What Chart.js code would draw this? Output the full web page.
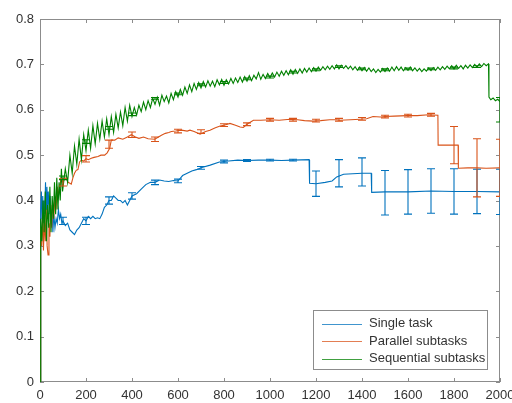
<!DOCTYPE html>
<html>
<head>
<meta charset="utf-8">
<script src="https://cdn.jsdelivr.net/npm/chart.js@4"></script>
<style>
  body { margin: 0; background: #fff; }
  #wrap { width: 512px; height: 403px; }
</style>
</head>
<body>
<div id="wrap"><canvas id="myChart" width="512" height="403"></canvas></div>
<script>
const seriesLabels = ['Single task', 'Parallel subtasks', 'Sequential subtasks'];
const seriesColors = ['#0072BD', '#D95319', '#008000'];

const xTicks = [0, 200, 400, 600, 800, 1000, 1200, 1400, 1600, 1800, 2000];
const yTicks = [0, 0.1, 0.2, 0.3, 0.4, 0.5, 0.6, 0.7, 0.8];

// single task
const singleX = [0,3,6,9,12,15,18,21,24,27,30,33,36,40,44,48,52,56,60,65,70,75,80,85,90,95,100,110,120,130,140,150,160,170,180,190,200,210,220,230,240,250,260,270,280,290,300,310,320,330,340,350,360,370,380,390,400,420,440,460,480,500,520,540,560,580,600,620,640,660,680,700,740,780,820,860,900,950,1000,1050,1100,1170,1172,1200,1240,1270,1290,1320,1400,1440,1442,1500,1600,1700,1800,1900,2000];
const singleY = [0,0.38,0.42,0.36,0.41,0.35,0.40,0.37,0.44,0.38,0.43,0.39,0.42,0.37,0.41,0.35,0.38,0.33,0.37,0.34,0.36,0.35,0.38,0.36,0.37,0.35,0.355,0.345,0.35,0.335,0.33,0.325,0.335,0.34,0.35,0.36,0.355,0.365,0.36,0.365,0.36,0.362,0.36,0.37,0.385,0.39,0.40,0.40,0.41,0.405,0.40,0.40,0.395,0.40,0.39,0.40,0.41,0.415,0.425,0.435,0.44,0.44,0.445,0.443,0.442,0.444,0.443,0.455,0.46,0.465,0.468,0.472,0.478,0.485,0.487,0.489,0.488,0.489,0.489,0.488,0.489,0.49,0.438,0.437,0.44,0.443,0.452,0.458,0.46,0.46,0.418,0.419,0.419,0.421,0.42,0.42,0.419];

// parallel subtasks
const parallelX = [0,3,7,11,15,19,23,27,31,35,39,43,47,51,55,60,65,70,75,80,86,92,100,108,115,122,130,136,143,150,158,165,172,180,190,200,210,223,235,252,265,281,292,303,310,325,340,360,380,397,415,430,450,470,499,515,528,545,560,571,590,615,640,652,670,687,696,705,720,739,760,783,800,826,850,870,884,900,928,960,1000,1040,1087,1120,1150,1188,1220,1260,1290,1304,1350,1391,1420,1448,1480,1500,1540,1596,1640,1690,1730,1731,1800,1818,1819,1860,1900,1940,2000];
const parallelY = [0,0.34,0.30,0.37,0.29,0.36,0.31,0.38,0.30,0.28,0.35,0.32,0.39,0.34,0.40,0.36,0.41,0.38,0.43,0.41,0.43,0.45,0.44,0.45,0.449,0.44,0.438,0.436,0.45,0.46,0.467,0.468,0.485,0.489,0.487,0.492,0.49,0.493,0.495,0.497,0.50,0.50,0.505,0.515,0.533,0.533,0.538,0.535,0.54,0.545,0.54,0.537,0.54,0.536,0.535,0.54,0.544,0.548,0.55,0.552,0.553,0.555,0.553,0.555,0.552,0.548,0.546,0.548,0.552,0.555,0.56,0.564,0.566,0.57,0.566,0.562,0.561,0.568,0.577,0.577,0.578,0.577,0.579,0.578,0.576,0.575,0.576,0.578,0.578,0.577,0.578,0.579,0.58,0.585,0.584,0.585,0.586,0.587,0.587,0.589,0.588,0.522,0.522,0.522,0.471,0.472,0.472,0.471,0.472];

// sequential subtasks
const sequentialX = [0,3,8,13,18,23,28,33,38,43,48,53,58,63,68,73,78,83,88,93,98,
    110,120,130,140,150,160,170,180,190,200,210,220,230,240,250,260,270,280,290,300,310,320,330,340,350,360,370,380,390,400,
    410,420,430,440,450,460,470,480,490,500,510,520,530,540,550,560,570,580,590,600,610,620,630,640,650,660,670,680,690,700,
    710,720,730,740,750,760,770,780,790,800,810,820,830,840,850,860,870,880,890,900,910,920,930,940,950,960,970,980,990,1000,
    1010,1020,1030,1040,1050,1060,1070,1080,1090,1100,1110,1120,1130,1140,1150,1160,1170,1180,1190,1200,1210,1220,1230,1240,1250,1260,1270,1280,1290,1300,
    1310,1320,1330,1340,1350,1360,1370,1380,1390,1400,1410,1420,1430,1440,1450,1460,1470,1480,1490,1500,1510,1520,1530,1540,1550,1560,1570,1580,1590,1600,
    1610,1620,1630,1640,1650,1660,1670,1680,1690,1700,1710,1720,1730,1740,1750,1760,1770,1780,1790,1800,1810,1820,1830,1840,1850,1860,1870,1880,1890,1900,
    1910,1920,1930,1940,1950,1952,1960,1970,1980,1990,2000];
const sequentialY = [0,0.36,0.31,0.40,0.33,0.42,0.31,0.39,0.34,0.43,0.33,0.41,0.36,0.44,0.37,0.45,0.38,0.44,0.40,0.47,0.42,
    0.47,0.44,0.50,0.46,0.52,0.48,0.535,0.49,0.545,0.51,0.555,0.515,0.565,0.525,0.57,0.535,0.575,0.54,0.58,0.545,0.585,0.55,0.59,0.56,0.595,0.565,0.605,0.575,0.61,0.585,
    0.605,0.588,0.61,0.596,0.617,0.60,0.62,0.605,0.625,0.612,0.628,0.61,0.632,0.618,0.63,0.615,0.636,0.622,0.64,0.628,0.645,0.632,0.65,0.636,0.655,0.64,0.658,0.645,0.66,0.648,
    0.662,0.65,0.664,0.652,0.663,0.651,0.666,0.655,0.667,0.654,0.666,0.657,0.669,0.658,0.67,0.66,0.672,0.661,0.673,0.663,0.675,0.664,0.676,0.668,0.682,0.667,0.678,0.669,0.68,0.671,
    0.681,0.672,0.683,0.674,0.685,0.676,0.686,0.677,0.688,0.678,0.689,0.68,0.69,0.681,0.691,0.683,0.692,0.684,0.693,0.685,0.694,0.687,0.695,0.688,0.696,0.689,0.697,0.69,0.699,0.69,
    0.698,0.691,0.697,0.69,0.696,0.688,0.695,0.687,0.694,0.686,0.693,0.685,0.692,0.684,0.69,0.682,0.689,0.683,0.691,0.684,0.692,0.685,0.694,0.686,0.695,0.687,0.694,0.686,0.693,0.687,
    0.694,0.686,0.692,0.685,0.691,0.684,0.69,0.685,0.692,0.686,0.693,0.687,0.694,0.688,0.695,0.689,0.696,0.69,0.697,0.69,0.698,0.691,0.697,0.69,0.698,0.692,0.699,0.693,0.70,0.694,
    0.701,0.695,0.702,0.697,0.701,0.628,0.622,0.626,0.62,0.623,0.618];

// error bars, every 100 iterations
const errX = [100,200,300,400,500,600,700,800,900,1000,1100,1200,1300,1400,1500,1600,1700,1800,1900,2000];
const singleErrMid = [0.355,0.355,0.40,0.41,0.44,0.443,0.472,0.486,0.488,0.489,0.489,0.437,0.46,0.463,0.417,0.419,0.421,0.42,0.42,0.419];
const singleErrHalf = [0.008,0.008,0.008,0.007,0.005,0.004,0.003,0.003,0.002,0.002,0.002,0.028,0.03,0.031,0.049,0.049,0.049,0.05,0.049,0.05];
const parallelErrMid = [0.44,0.492,0.524,0.545,0.535,0.553,0.552,0.566,0.568,0.578,0.578,0.576,0.578,0.58,0.585,0.587,0.589,0.522,0.472,0.472];
const parallelErrHalf = [0.008,0.007,0.009,0.006,0.005,0.004,0.004,0.003,0.003,0.003,0.003,0.003,0.003,0.003,0.003,0.003,0.003,0.041,0.064,0.063];
const sequentialErrMid = [0.45,0.53,0.56,0.59,0.625,0.635,0.655,0.66,0.668,0.672,0.683,0.688,0.695,0.69,0.688,0.69,0.69,0.692,0.695,0.60];
const sequentialErrHalf = [0.004,0.004,0.003,0.003,0.002,0.002,0.002,0.002,0.002,0.002,0.002,0.002,0.002,0.002,0.002,0.002,0.002,0.002,0.002,0.027];

const axisColor = '#8c8c8c';
const textColor = '#333333';
const fontFamily = '"Liberation Sans", Arial, sans-serif';

function toPoints(xs, ys) {
    return xs.map((x, i) => ({x: x, y: ys[i]}));
}

function makeDataset(i, xs, ys, mid, half, order) {
    return {
        label: seriesLabels[i],
        data: toPoints(xs, ys),
        borderColor: seriesColors[i],
        backgroundColor: seriesColors[i],
        borderWidth: 1.1,
        pointRadius: 0,
        tension: 0,
        order: order,
        errMid: mid,
        errHalf: half
    };
}

// matlab style box with inward ticks, under the data
const boxPlugin = {
    id: 'box',
    beforeDatasetsDraw(chart) {
        const ctx = chart.ctx;
        const a = chart.chartArea;
        const xs = chart.scales.x, ys = chart.scales.y;
        ctx.save();
        ctx.strokeStyle = axisColor;
        ctx.lineWidth = 1;
        ctx.strokeRect(a.left + 0.5, a.top + 0.5, a.right - a.left - 1, a.bottom - a.top - 1);
        ctx.beginPath();
        xs.ticks.forEach(t => {
            const p = Math.round(xs.getPixelForValue(t.value)) + 0.5;
            ctx.moveTo(p, a.bottom); ctx.lineTo(p, a.bottom - 4);
            ctx.moveTo(p, a.top); ctx.lineTo(p, a.top + 4);
        });
        ys.ticks.forEach(t => {
            const p = Math.round(ys.getPixelForValue(t.value)) + 0.5;
            ctx.moveTo(a.left, p); ctx.lineTo(a.left + 4, p);
            ctx.moveTo(a.right, p); ctx.lineTo(a.right - 4, p);
        });
        ctx.stroke();
        ctx.restore();
    }
};

const errorBarPlugin = {
    id: 'errorBars',
    afterDatasetsDraw(chart) {
        const ctx = chart.ctx;
        const a = chart.chartArea;
        const xs = chart.scales.x, ys = chart.scales.y;
        ctx.save();
        ctx.beginPath();
        ctx.rect(a.left, a.top, a.right - a.left, a.bottom - a.top);
        ctx.clip();
        ctx.lineWidth = 1.1;
        chart.data.datasets.forEach(ds => {
            ctx.strokeStyle = ds.borderColor;
            ctx.beginPath();
            errX.forEach((x, i) => {
                const px = xs.getPixelForValue(x);
                const top = ys.getPixelForValue(ds.errMid[i] + ds.errHalf[i]);
                const bot = ys.getPixelForValue(ds.errMid[i] - ds.errHalf[i]);
                ctx.moveTo(px, top); ctx.lineTo(px, bot);
                ctx.moveTo(px - 4, top); ctx.lineTo(px + 4, top);
                ctx.moveTo(px - 4, bot); ctx.lineTo(px + 4, bot);
            });
            ctx.stroke();
        });
        ctx.restore();
    }
};

const legendPlugin = {
    id: 'boxLegend',
    afterDraw(chart) {
        const ctx = chart.ctx;
        const a = chart.chartArea;
        const w = 174, h = 59;
        const left = a.right - 13 - w, top = a.bottom - 13 - h;
        ctx.save();
        ctx.fillStyle = '#ffffff';
        ctx.fillRect(left, top, w, h);
        ctx.strokeStyle = axisColor;
        ctx.lineWidth = 1;
        ctx.strokeRect(left + 0.5, top + 0.5, w, h);
        ctx.font = '13px ' + fontFamily;
        ctx.textBaseline = 'middle';
        chart.data.datasets.forEach((ds, i) => {
            const y = top + 13.5 + i * 17.5;
            ctx.strokeStyle = ds.borderColor;
            ctx.globalAlpha = 0.75;
            ctx.beginPath();
            ctx.moveTo(left + 9, Math.round(y) + 0.5);
            ctx.lineTo(left + 49, Math.round(y) + 0.5);
            ctx.stroke();
            ctx.globalAlpha = 1;
            ctx.fillStyle = textColor;
            ctx.fillText(ds.label, left + 56, y);
        });
        ctx.restore();
    }
};

function draw_graph() {
    const data = {
        datasets: [
            makeDataset(0, singleX, singleY, singleErrMid, singleErrHalf, 3),
            makeDataset(1, parallelX, parallelY, parallelErrMid, parallelErrHalf, 2),
            makeDataset(2, sequentialX, sequentialY, sequentialErrMid, sequentialErrHalf, 1)
        ]
    };
    const config = {
        type: 'line',
        data: data,
        plugins: [boxPlugin, errorBarPlugin, legendPlugin],
        options: {
            responsive: false,
            animation: false,
            layout: { padding: { top: 19, right: 12, left: 0, bottom: 0 } },
            plugins: {
                legend: { display: false },
                tooltip: { enabled: false }
            },
            scales: {
                x: {
                    type: 'linear',
                    min: xTicks[0],
                    max: xTicks[xTicks.length - 1],
                    afterBuildTicks: s => { s.ticks = xTicks.map(v => ({value: v})); },
                    ticks: {
                        color: textColor,
                        font: { family: fontFamily, size: 13 },
                        padding: 6,
                        maxRotation: 0,
                        autoSkip: false,
                        callback: v => String(v)
                    },
                    grid: { display: false, drawTicks: false },
                    border: { display: false },
                    afterFit: s => { s.height = 21; s.paddingLeft = 0; s.paddingRight = 0; }
                },
                y: {
                    min: yTicks[0],
                    max: yTicks[yTicks.length - 1],
                    afterBuildTicks: s => { s.ticks = yTicks.map(v => ({value: v})); },
                    ticks: {
                        color: textColor,
                        font: { family: fontFamily, size: 13 },
                        padding: 6,
                        callback: v => String(Number(v.toFixed(1)))
                    },
                    grid: { display: false, drawTicks: false },
                    border: { display: false },
                    afterFit: s => { s.width = 40; s.paddingTop = 0; s.paddingBottom = 0; }
                }
            }
        }
    };

    var myChart = new Chart(
        document.getElementById('myChart'),
        config
    );
}

draw_graph();
</script>
</body>
</html>
